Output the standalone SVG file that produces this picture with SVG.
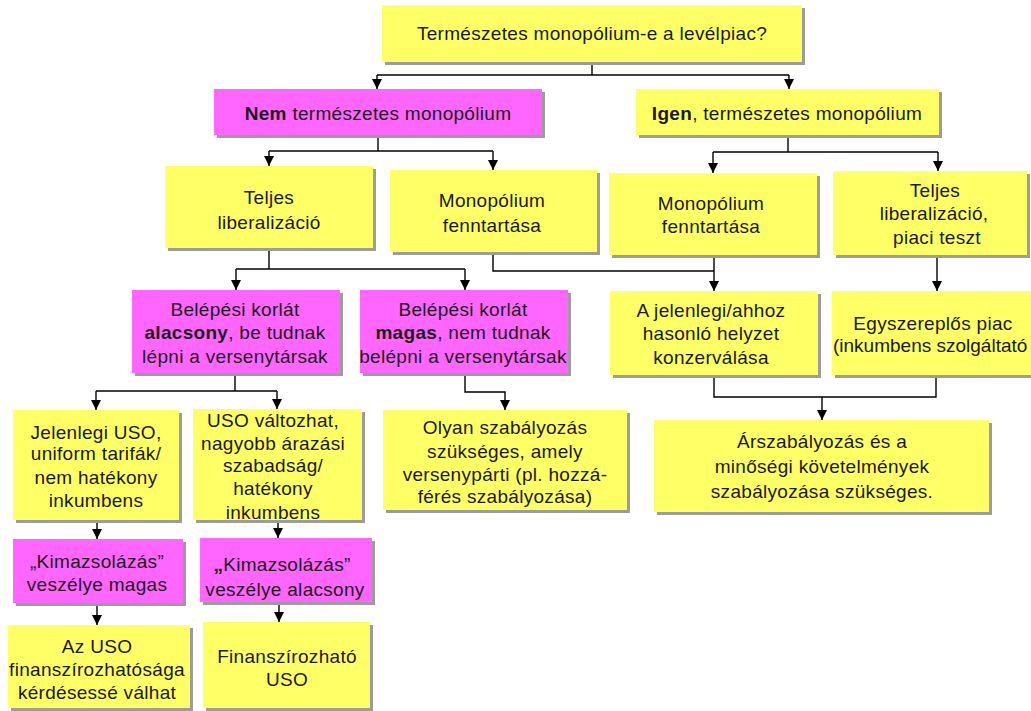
<svg xmlns="http://www.w3.org/2000/svg" width="1031" height="711" viewBox="0 0 1031 711">
  <defs>
    <marker id="arrow" markerUnits="userSpaceOnUse" markerWidth="10" markerHeight="11" refX="10" refY="5" orient="auto">
      <path d="M0,0 L10,5 L0,10 z" fill="#000"/>
    </marker>
    <style>
      .shadow { fill: #9c9c9c; }
      .yellow { fill: #ffff66; }
      .magenta { fill: #ff66ff; }
      text { font-family: "Liberation Sans", Arial, sans-serif; font-size: 19px; fill: #1a1a1a; text-anchor: middle; letter-spacing: 0.3px; }
      .b { font-weight: bold; }
      .tight { text-anchor: start; letter-spacing: 0; }
      .conn { fill: none; stroke: #000; stroke-width: 1.4; }
    </style>
  </defs>
  <rect width="1031" height="711" fill="#fff"/>

  <!-- connectors -->
  <g id="connectors" class="conn">
    <path d="M592,62 V75"/>
    <path d="M377,75 H789"/>
    <path d="M377,75 V89" marker-end="url(#arrow)"/>
    <path d="M789,75 V89" marker-end="url(#arrow)"/>

    <path d="M378,135 V151"/>
    <path d="M269,151 H493"/>
    <path d="M269,151 V166" marker-end="url(#arrow)"/>
    <path d="M493,151 V170" marker-end="url(#arrow)"/>

    <path d="M788,135 V152"/>
    <path d="M713,152 H938"/>
    <path d="M713,152 V173" marker-end="url(#arrow)"/>
    <path d="M938,152 V171" marker-end="url(#arrow)"/>

    <path d="M269,248 V269"/>
    <path d="M236,269 H465"/>
    <path d="M236,269 V290" marker-end="url(#arrow)"/>
    <path d="M465,269 V290" marker-end="url(#arrow)"/>

    <path d="M493,252 V271 H714"/>
    <path d="M714,255 V291" marker-end="url(#arrow)"/>
    <path d="M937,255 V291" marker-end="url(#arrow)"/>

    <path d="M235,373 V391"/>
    <path d="M96,391 H277"/>
    <path d="M96,391 V410" marker-end="url(#arrow)"/>
    <path d="M277,391 V409" marker-end="url(#arrow)"/>

    <path d="M465,373 V392 H505 V410" marker-end="url(#arrow)"/>

    <path d="M714,375 V397 H936 V375"/>
    <path d="M822,397 V420" marker-end="url(#arrow)"/>

    <path d="M97,520 V539" marker-end="url(#arrow)"/>
    <path d="M278,520 V538" marker-end="url(#arrow)"/>
    <path d="M97,603 V625" marker-end="url(#arrow)"/>
    <path d="M279,602 V622" marker-end="url(#arrow)"/>
  </g>

  <!-- nodes -->
  <g id="n-question">
    <rect class="shadow" x="385" y="8" width="420" height="57"/>
    <rect class="yellow" x="382" y="5" width="420" height="57"/>
    <text x="592" y="40">Természetes monopólium-e a levélpiac?</text>
  </g>

  <g id="n-nem">
    <rect class="shadow" x="217" y="92" width="328" height="46"/>
    <rect class="magenta" x="214" y="89" width="328" height="46"/>
    <text x="378" y="120"><tspan class="b">Nem</tspan> természetes monopólium</text>
  </g>

  <g id="n-igen">
    <rect class="shadow" x="639" y="92" width="303" height="46"/>
    <rect class="yellow" x="636" y="89" width="303" height="46"/>
    <text x="787" y="120"><tspan class="b">Igen</tspan>, természetes monopólium</text>
  </g>

  <g id="n-teljes-1">
    <rect class="shadow" x="168" y="169" width="208" height="82"/>
    <rect class="yellow" x="165" y="166" width="208" height="82"/>
    <text x="269" y="204">Teljes</text>
    <text x="269" y="229">liberalizáció</text>
  </g>

  <g id="n-monopol-1">
    <rect class="shadow" x="393" y="173" width="207" height="82"/>
    <rect class="yellow" x="390" y="170" width="207" height="82"/>
    <text x="492" y="207">Monopólium</text>
    <text x="492" y="232">fenntartása</text>
  </g>

  <g id="n-monopol-2">
    <rect class="shadow" x="612" y="176" width="208" height="82"/>
    <rect class="yellow" x="609" y="173" width="208" height="82"/>
    <text x="711" y="210">Monopólium</text>
    <text x="711" y="233">fenntartása</text>
  </g>

  <g id="n-teljes-2">
    <rect class="shadow" x="836" y="174" width="194" height="84"/>
    <rect class="yellow" x="833" y="171" width="194" height="84"/>
    <text x="935" y="197">Teljes</text>
    <text x="934" y="220">liberalizáció,</text>
    <text x="937" y="244">piaci teszt</text>
  </g>

  <g id="n-belepes-alacsony">
    <rect class="shadow" x="135" y="293" width="208" height="83"/>
    <rect class="magenta" x="132" y="290" width="208" height="83"/>
    <text x="235" y="316">Belépési korlát</text>
    <text x="235" y="339"><tspan class="b">alacsony</tspan>, be tudnak</text>
    <text x="235" y="363">lépni a versenytársak</text>
  </g>

  <g id="n-belepes-magas">
    <rect class="shadow" x="363" y="293" width="208" height="83"/>
    <rect class="magenta" x="360" y="290" width="208" height="83"/>
    <text x="463" y="316">Belépési korlát</text>
    <text x="463" y="339"><tspan class="b">magas</tspan>, nem tudnak</text>
    <text x="463" y="363">belépni a versenytársak</text>
  </g>

  <g id="n-jelenlegi-helyzet">
    <rect class="shadow" x="613" y="294" width="208" height="84"/>
    <rect class="yellow" x="610" y="291" width="208" height="84"/>
    <text x="711" y="317">A jelenlegi/ahhoz</text>
    <text x="711" y="340">hasonló helyzet</text>
    <text x="711" y="364">konzerválása</text>
  </g>

  <g id="n-egyszereplos">
    <rect class="shadow" x="835" y="294" width="200" height="84"/>
    <rect class="yellow" x="832" y="291" width="200" height="84"/>
    <text x="933" y="330">Egyszereplős piac</text>
    <text class="tight" x="833" y="352">(inkumbens szolgáltató</text>
  </g>

  <g id="n-jelenlegi-uso">
    <rect class="shadow" x="16" y="413" width="166" height="110"/>
    <rect class="yellow" x="13" y="410" width="166" height="110"/>
    <text x="96" y="439">Jelenlegi USO,</text>
    <text x="96" y="460">uniform tarifák/</text>
    <text x="96" y="484">nem hatékony</text>
    <text x="96" y="507">inkumbens</text>
  </g>

  <g id="n-uso-valtozhat">
    <rect class="shadow" x="196" y="412" width="169" height="111"/>
    <rect class="yellow" x="193" y="409" width="169" height="111"/>
    <text x="273" y="427">USO változhat,</text>
    <text x="273" y="450">nagyobb árazási</text>
    <text x="273" y="472">szabadság/</text>
    <text x="273" y="495">hatékony</text>
    <text x="273" y="519">inkumbens</text>
  </g>

  <g id="n-olyan-szabalyozas">
    <rect class="shadow" x="386" y="413" width="244" height="100"/>
    <rect class="yellow" x="383" y="410" width="244" height="100"/>
    <text x="505" y="434">Olyan szabályozás</text>
    <text x="505" y="458">szükséges, amely</text>
    <text x="505" y="481">versenypárti (pl. hozzá-</text>
    <text x="505" y="503">férés szabályozása)</text>
  </g>

  <g id="n-arszabalyozas">
    <rect class="shadow" x="657" y="423" width="335" height="92"/>
    <rect class="yellow" x="654" y="420" width="335" height="92"/>
    <text x="822" y="448">Árszabályozás és a</text>
    <text x="822" y="473">minőségi követelmények</text>
    <text x="822" y="498">szabályozása szükséges.</text>
  </g>

  <g id="n-kimazsolazas-magas">
    <rect class="shadow" x="16" y="542" width="170" height="64"/>
    <rect class="magenta" x="13" y="539" width="170" height="64"/>
    <text x="97" y="568">„Kimazsolázás”</text>
    <text x="97" y="591">veszélye magas</text>
  </g>

  <g id="n-kimazsolazas-alacsony">
    <rect class="shadow" x="203" y="541" width="172" height="64"/>
    <rect class="magenta" x="200" y="538" width="172" height="64"/>
    <text x="282" y="571"><tspan class="b">„</tspan>Kimazsolázás”</text>
    <text x="285" y="596">veszélye alacsony</text>
  </g>

  <g id="n-uso-finanszirozhatosag">
    <rect class="shadow" x="11" y="628" width="182" height="83"/>
    <rect class="yellow" x="8" y="625" width="182" height="83"/>
    <text x="97" y="653">Az USO</text>
    <text x="97" y="676">finanszírozhatósága</text>
    <text x="97" y="699">kérdésessé válhat</text>
  </g>

  <g id="n-finanszirozhato">
    <rect class="shadow" x="206" y="625" width="167" height="86"/>
    <rect class="yellow" x="203" y="622" width="167" height="86"/>
    <text x="287" y="663">Finanszírozható</text>
    <text x="287" y="686">USO</text>
  </g>
</svg>
